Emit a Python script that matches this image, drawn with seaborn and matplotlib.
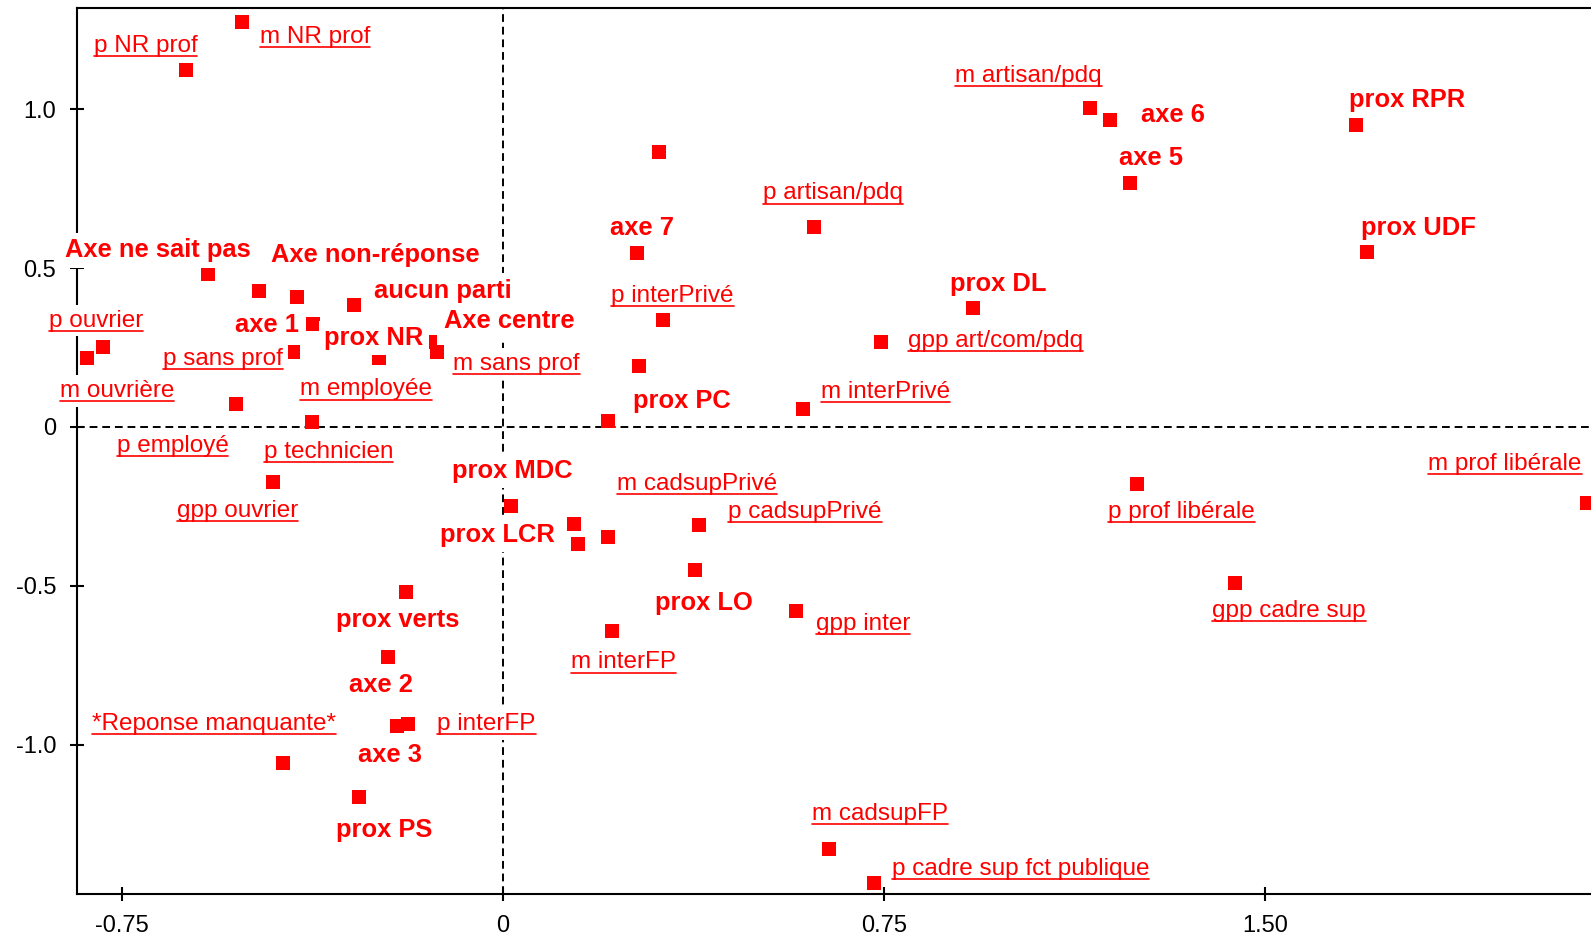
import pandas as pd
import matplotlib
matplotlib.use('Agg')
import matplotlib.pyplot as plt
from matplotlib.lines import Line2D
import seaborn as sns

sns.set_style('white')
plt.rcParams['font.family'] = ['Liberation Sans', 'DejaVu Sans']

# coordinates of the modalities on factorial axes 1 and 2
labels = ['p NR prof', 'm NR prof', 'm artisan/pdq', 'axe 6', 'axe 5', 'prox RPR', 'prox UDF', '',
          'p artisan/pdq', 'axe 7', 'Axe ne sait pas', 'Axe non-réponse', 'prox NR', 'aucun parti',
          'm ouvrière', 'p ouvrier', 'p employé', 'p technicien', 'gpp ouvrier', 'prox verts',
          'prox MDC', 'axe 1', 'p sans prof', 'm employée', 'Axe centre', 'm sans prof', 'axe 2',
          'axe 3', 'p interFP', '*Reponse manquante*', 'prox PS', 'prox DL', 'p interPrivé',
          'gpp art/com/pdq', '', 'm interPrivé', 'prox PC', 'm cadsupPrivé', 'prox LCR', '',
          'p cadsupPrivé', 'prox LO', 'gpp inter', 'm interFP', 'm cadsupFP',
          'p cadre sup fct publique', 'p prof libérale', 'gpp cadre sup', 'm prof libérale']
coord_x = [-0.624, -0.513, 1.155, 1.195, 1.235, 1.680, 1.702, 0.307,
           0.613, 0.264, -0.580, -0.479, -0.404, -0.293,
           -0.818, -0.787, -0.526, -0.376, -0.452, -0.191,
           0.017, -0.373, -0.412, -0.244, -0.144, -0.129, -0.226,
           -0.209, -0.186, -0.433, -0.283, 0.925, 0.316,
           0.745, 0.268, 0.591, 0.207, 0.140, 0.148, 0.207,
           0.387, 0.379, 0.577, 0.216, 0.643,
           0.731, 1.249, 1.442, 2.134]
coord_y = [1.123, 1.275, 1.002, 0.965, 0.768, 0.949, 0.549, 0.865,
           0.630, 0.548, 0.480, 0.428, 0.410, 0.384,
           0.216, 0.253, 0.071, 0.015, -0.172, -0.520,
           -0.247, 0.323, 0.237, 0.216, 0.268, 0.237, -0.724,
           -0.942, -0.935, -1.058, -1.163, 0.373, 0.336,
           0.268, 0.192, 0.057, 0.020, -0.306, -0.367, -0.346,
           -0.308, -0.451, -0.579, -0.642, -1.328,
           -1.435, -0.178, -0.490, -0.238]
# 'actif' = party variable (bold), 'illus' = profession variables (underlined)
kind = ['illus', 'illus', 'illus', 'actif', 'actif', 'actif', 'actif', 'illus',
        'illus', 'actif', 'actif', 'actif', 'actif', 'actif',
        'illus', 'illus', 'illus', 'illus', 'illus', 'actif',
        'actif', 'actif', 'illus', 'illus', 'actif', 'illus', 'actif',
        'actif', 'illus', 'illus', 'actif', 'actif', 'illus',
        'illus', 'illus', 'illus', 'actif', 'illus', 'actif', 'illus',
        'illus', 'actif', 'illus', 'illus', 'illus',
        'illus', 'illus', 'illus', 'illus']

xticks = [-0.75, 0, 0.75, 1.50]
xtick_labels = ['-0.75', '0', '0.75', '1.50']
yticks = [1.0, 0.5, 0, -0.5, -1.0]
ytick_labels = ['1.0', '0.5', '0', '-0.5', '-1.0']

# where each label sits relative to its square (pixels, y up)
label_offsets = {
    'p NR prof': (-92, 18.3), 'm NR prof': (17.6, -21.6), 'm artisan/pdq': (-134.2, 26.6),
    'axe 6': (31.6, -1.7), 'axe 5': (-11, 17.7), 'prox RPR': (-7, 18), 'prox UDF': (-6.7, 17.3),
    'p artisan/pdq': (-51.5, 27.4), 'axe 7': (-27, 17.7), 'Axe ne sait pas': (-143.2, 17),
    'Axe non-réponse': (11.9, 29.3), 'prox NR': (27, -48.3), 'aucun parti': (20, 7.3),
    'm ouvrière': (-27.2, -38.4), 'p ouvrier': (-54.1, 20), 'p employé': (-119, -47.4),
    'p technicien': (-48, -36), 'gpp ouvrier': (-96.4, -35), 'prox verts': (-70, -34.4),
    'prox MDC': (-58.9, 27.4), 'axe 1': (-78.4, -7.4), 'p sans prof': (-130.4, -13.3),
    'm employée': (-78.6, -37), 'Axe centre': (14.7, 13.4), 'm sans prof': (15.9, -18.3),
    'axe 2': (-38.8, -34.4), 'axe 3': (-38.6, -35.6), 'p interFP': (29, -5.7),
    '*Reponse manquante*': (-190.6, 33.3), 'prox PS': (-23.3, -40), 'prox DL': (-22.8, 17.6),
    'p interPrivé': (-51.9, 18.3), 'gpp art/com/pdq': (26.3, -5), 'm interPrivé': (17.5, 10.7),
    'prox PC': (24.9, 12.4), 'm cadsupPrivé': (43.1, 34.3), 'prox LCR': (-138.4, 2),
    'p cadsupPrivé': (28.8, 6.7), 'prox LO': (-40.7, -39.7), 'gpp inter': (19.7, -19),
    'm interFP': (-41, -37.3), 'm cadsupFP': (-17.9, 29.3), 'p cadre sup fct publique': (17.8, 8.3),
    'p prof libérale': (-29.5, -34.6), 'gpp cadre sup': (-23.4, -34), 'm prof libérale': (-158.7, 32.7),
}

df = pd.DataFrame({'label': labels, 'x': coord_x, 'y': coord_y, 'kind': kind})

W, H = 1591, 939
fig = plt.figure(figsize=(W / 100, H / 100), dpi=100)
ax = fig.add_axes([77 / W, 45 / H, (W - 77) / W, 885.7 / H])

ax.axhline(0, color='black', lw=1.4, linestyle=(0, (4, 2.5)), zorder=0.5)
ax.axvline(0, color='black', lw=1.4, linestyle=(0, (4, 2.5)), zorder=0.5)

sns.scatterplot(data=df, x='x', y='y', marker='s', s=94, color='#ff0000',
                linewidth=0, ax=ax, zorder=2, legend=False)

ax.set_xlim(-0.838, 2.142)
ax.set_ylim(-1.469, 1.317)
ax.set_xticks(xticks)
ax.set_xticklabels(xtick_labels)
ax.set_yticks(yticks)
ax.set_yticklabels(ytick_labels)
ax.set_xlabel('')
ax.set_ylabel('')
ax.tick_params(direction='inout', length=10, width=1.5, pad=10, labelsize=17,
               colors='black', bottom=True, left=True)
ax.spines['right'].set_visible(False)
for side in ['left', 'bottom', 'top']:
    ax.spines[side].set_linewidth(1.5)
    ax.spines[side].set_color('black')

texts = []
for _, r in df.iterrows():
    if not r['label']:
        continue
    dx, dy = label_offsets[r['label']]
    bold = r['kind'] == 'actif'
    t = ax.annotate(r['label'], (r['x'], r['y']), xytext=(dx, dy), textcoords='offset pixels',
                    ha='left', va='baseline', color='#ff0000',
                    fontsize=18.4 if bold else 17.5, fontweight='bold' if bold else 'normal',
                    bbox=dict(boxstyle='square,pad=0.2', fc='white', ec='none'),
                    zorder=3, annotation_clip=False)
    if not bold:
        texts.append(t)

# underline the profession labels
fig.canvas.draw()
renderer = fig.canvas.get_renderer()
for t in texts:
    bb = t.get_window_extent(renderer)
    yy = (bb.y0 + 0.8) / H
    fig.add_artist(Line2D([bb.x0 / W, bb.x1 / W], [yy, yy], transform=fig.transFigure,
                          color='#ff0000', lw=1.2, zorder=5))

fig.savefig('out.png', dpi=100)
